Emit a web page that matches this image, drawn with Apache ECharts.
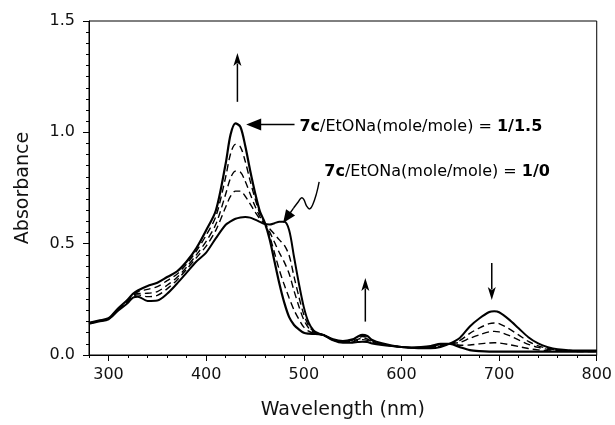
<!DOCTYPE html>
<html><head><meta charset="utf-8">
<script src="https://cdn.jsdelivr.net/npm/echarts@6/dist/echarts.min.js"></script>
<style>html,body{margin:0;padding:0;background:#fff}#c{width:615px;height:425px}</style>
</head><body><div id="c"></div>
<script>
// ---- data ----
const wavelength = [280,290,300,310,320,325,330,340,350,360,370,380,390,400,410,420,425,430,435,440,445,450,455,460,465,470,475,480,485,490,495,500,505,510,515,520,530,540,550,555,560,565,570,580,590,600,610,620,630,640,650,660,670,680,690,695,700,710,720,730,740,750,760,780,800];
// 7c/EtONa = 1/0 (start, solid)
const ratio_1_0 = [0.140,0.150,0.160,0.200,0.235,0.258,0.262,0.243,0.245,0.275,0.320,0.370,0.420,0.460,0.525,0.585,0.600,0.612,0.618,0.620,0.617,0.608,0.598,0.588,0.586,0.592,0.598,0.598,0.560,0.440,0.320,0.215,0.145,0.110,0.097,0.090,0.066,0.055,0.055,0.058,0.060,0.058,0.052,0.045,0.040,0.036,0.033,0.030,0.030,0.036,0.052,0.078,0.128,0.165,0.193,0.196,0.192,0.160,0.120,0.080,0.052,0.035,0.026,0.020,0.020];
// intermediate titration spectra (dashed)
const ratio_step1 = [0.141,0.151,0.161,0.203,0.239,0.263,0.270,0.262,0.268,0.297,0.336,0.385,0.437,0.489,0.561,0.665,0.713,0.736,0.736,0.713,0.679,0.643,0.612,0.590,0.567,0.542,0.517,0.493,0.447,0.352,0.261,0.182,0.131,0.106,0.096,0.090,0.067,0.057,0.059,0.065,0.069,0.066,0.057,0.047,0.041,0.036,0.033,0.031,0.033,0.040,0.051,0.066,0.097,0.122,0.141,0.144,0.141,0.118,0.090,0.061,0.041,0.029,0.023,0.019,0.019];
const ratio_step2 = [0.143,0.153,0.163,0.205,0.243,0.267,0.276,0.277,0.285,0.313,0.348,0.395,0.450,0.510,0.588,0.723,0.795,0.826,0.822,0.780,0.724,0.669,0.622,0.592,0.553,0.506,0.459,0.417,0.365,0.288,0.218,0.158,0.121,0.103,0.096,0.090,0.068,0.059,0.063,0.070,0.075,0.072,0.060,0.049,0.041,0.036,0.033,0.033,0.035,0.043,0.051,0.057,0.075,0.091,0.104,0.106,0.104,0.088,0.068,0.048,0.034,0.025,0.021,0.018,0.018];
const ratio_step3 = [0.144,0.154,0.164,0.208,0.247,0.271,0.284,0.295,0.307,0.334,0.363,0.409,0.467,0.538,0.623,0.800,0.904,0.946,0.935,0.870,0.783,0.703,0.635,0.593,0.535,0.458,0.381,0.315,0.256,0.202,0.160,0.125,0.107,0.098,0.095,0.090,0.069,0.060,0.067,0.077,0.083,0.079,0.064,0.050,0.042,0.036,0.033,0.034,0.038,0.047,0.050,0.044,0.045,0.050,0.054,0.055,0.054,0.047,0.038,0.029,0.023,0.019,0.017,0.016,0.016];
// 7c/EtONa = 1/1.5 (end, solid)
const ratio_1_15 = [0.145,0.155,0.165,0.210,0.250,0.275,0.290,0.310,0.325,0.350,0.375,0.420,0.480,0.560,0.650,0.860,0.990,1.040,1.025,0.940,0.830,0.730,0.645,0.595,0.520,0.420,0.320,0.235,0.170,0.135,0.115,0.100,0.096,0.095,0.094,0.090,0.070,0.062,0.070,0.082,0.090,0.085,0.068,0.052,0.042,0.036,0.033,0.035,0.040,0.050,0.050,0.035,0.022,0.017,0.015,0.015,0.015,0.015,0.015,0.015,0.015,0.015,0.015,0.015,0.015];

const xTicks = [300,400,500,600,700,800];
const xMinorTicks = [280,300,320,340,360,380,400,420,440,460,480,500,520,540,560,580,600,620,640,660,680,700,720,740,760,780,800];
const yTicks = [0,0.5,1.0,1.5];

const xTitle = 'Wavelength (nm)';
const yTitle = 'Absorbance';
const label15 = '{b|7c}/EtONa(mole/mole) = {b|1/1.5}';
const label10 = '{b|7c}/EtONa(mole/mole) = {b|1/0}';

// annotation anchors in data units [nm, absorbance]
const arrowUp1 = [[432,1.137],[432,1.356]];
const arrowUp2 = [[563,0.15],[563,0.346]];
const arrowDown = [[692.5,0.413],[692.5,0.247]];
const arrowLeft = [[490.5,1.035],[441,1.035]];
const text15Pos = [495.5,1.025];
const text10Pos = [521,0.823];
const squiggle = [[515.7,0.777],[513.1,0.727],[509.0,0.674],[505.9,0.656],[502.9,0.669],[499.8,0.700],[497.2,0.705],[494.2,0.687],[489.5,0.660]];
const squiggleTip = [478.8,0.593];

const FONT = 'DejaVu Sans';
const chart = echarts.init(document.getElementById('c'), null, {renderer:'canvas'});

function pairs(arr){ return wavelength.map((w,i)=>[w,arr[i]]); }
function mkLine(name, arr, dashed, width){
  return {name, type:'line', data:pairs(arr), showSymbol:false, smooth:0.3,
    lineStyle:{color:'#000', width:width, type: dashed ? [7,4] : 'solid'}, silent:true, animation:false};
}

chart.setOption({
  animation:false,
  backgroundColor:'#fff',
  grid:{left:89, right:18, top:21, bottom:70, show:true, borderColor:'#000', borderWidth:1, backgroundColor:'transparent'},
  xAxis:[{
    type:'value', min:280, max:800,
    axisLine:{show:true, onZero:false, lineStyle:{color:'#000', width:1}},
    axisTick:{show:true, inside:false, length:6, customValues:xTicks, lineStyle:{color:'#000', width:1}},
    axisLabel:{customValues:xTicks, color:'#111', fontFamily:FONT, fontSize:16, margin:12},
    splitLine:{show:false},
    name:xTitle, nameLocation:'middle', nameGap:46,
    nameTextStyle:{color:'#111', fontFamily:FONT, fontSize:19}
  },{
    type:'value', min:280, max:800, position:'bottom',
    axisLine:{show:false},
    axisTick:{show:true, inside:false, length:3, customValues:xMinorTicks, lineStyle:{color:'#000', width:1}},
    axisLabel:{show:false}, splitLine:{show:false}
  }],
  yAxis:{
    type:'value', min:0, max:1.5, interval:0.5,
    axisLine:{show:true, lineStyle:{color:'#000', width:1}},
    axisTick:{show:true, length:6, lineStyle:{color:'#000', width:1}},
    minorTick:{show:true, splitNumber:10, length:3, lineStyle:{color:'#000', width:1}},
    axisLabel:{color:'#111', fontFamily:FONT, fontSize:16, margin:14, formatter:v=>v.toFixed(1)},
    splitLine:{show:false},
    name:yTitle, nameLocation:'middle', nameGap:56, nameRotate:90,
    nameTextStyle:{color:'#111', fontFamily:FONT, fontSize:19}
  },
  series:[
    mkLine('1/0', ratio_1_0, false, 2),
    mkLine('step1', ratio_step1, true, 1.4),
    mkLine('step2', ratio_step2, true, 1.4),
    mkLine('step3', ratio_step3, true, 1.4),
    mkLine('1/1.5', ratio_1_15, false, 2.2)
  ]
});

function px(p){ return chart.convertToPixel({gridIndex:0}, p); }
function arrowHead(tip, from, len, half, notch){
  const dx = tip[0]-from[0], dy = tip[1]-from[1];
  const L = Math.hypot(dx,dy); const ux = dx/L, uy = dy/L; const nx=-uy, ny=ux;
  const bx = tip[0]-ux*len, by = tip[1]-uy*len;
  const mx = tip[0]-ux*len*notch, my = tip[1]-uy*len*notch;
  return {type:'polygon', shape:{points:[tip,[bx+nx*half,by+ny*half],[mx,my],[bx-nx*half,by-ny*half]]},
    style:{fill:'#000'}, z:20};
}
function straightArrow(seg, len, half, notch, w){
  const a = px(seg[0]), b = px(seg[1]);
  const dx=b[0]-a[0], dy=b[1]-a[1], L=Math.hypot(dx,dy);
  const end=[b[0]-dx/L*len*0.8, b[1]-dy/L*len*0.8];
  return [
    {type:'line', shape:{x1:a[0],y1:a[1],x2:end[0],y2:end[1]}, style:{stroke:'#000', lineWidth:w}, z:20},
    arrowHead(b, a, len, half, notch)
  ];
}
const g = [];
g.push(...straightArrow(arrowUp1, 13, 4, 0.75, 1.5));
g.push(...straightArrow(arrowUp2, 13, 4, 0.75, 1.5));
g.push(...straightArrow(arrowDown, 13, 4, 0.75, 1.5));
g.push(...straightArrow(arrowLeft, 15, 6, 1.0, 1.5));
const sq = squiggle.map(px);
const tip = px(squiggleTip);
const last = sq[sq.length-1];
g.push({type:'polyline', shape:{points:sq, smooth:0.4}, style:{stroke:'#000', lineWidth:1.4, fill:null}, z:20});
const dxs = tip[0]-last[0], dys = tip[1]-last[1], Ls = Math.hypot(dxs,dys);
g.push({type:'line', shape:{x1:last[0],y1:last[1],x2:tip[0]-dxs/Ls*10,y2:tip[1]-dys/Ls*10}, style:{stroke:'#000',lineWidth:1.4}, z:20});
g.push(arrowHead(tip, last, 13, 5.5, 1.0));
const t15 = px(text15Pos), t10 = px(text10Pos);
const rich = {b:{fontWeight:'bold', fontFamily:FONT, fontSize:16, fill:'#000'}};
g.push({type:'text', x:t15[0], y:t15[1], style:{text:label15, rich, font:'16px "DejaVu Sans"', fill:'#000', verticalAlign:'middle', align:'left'}, z:20});
g.push({type:'text', x:t10[0], y:t10[1], style:{text:label10, rich, font:'16px "DejaVu Sans"', fill:'#000', verticalAlign:'middle', align:'left'}, z:20});
chart.setOption({graphic:g});
</script></body></html>
